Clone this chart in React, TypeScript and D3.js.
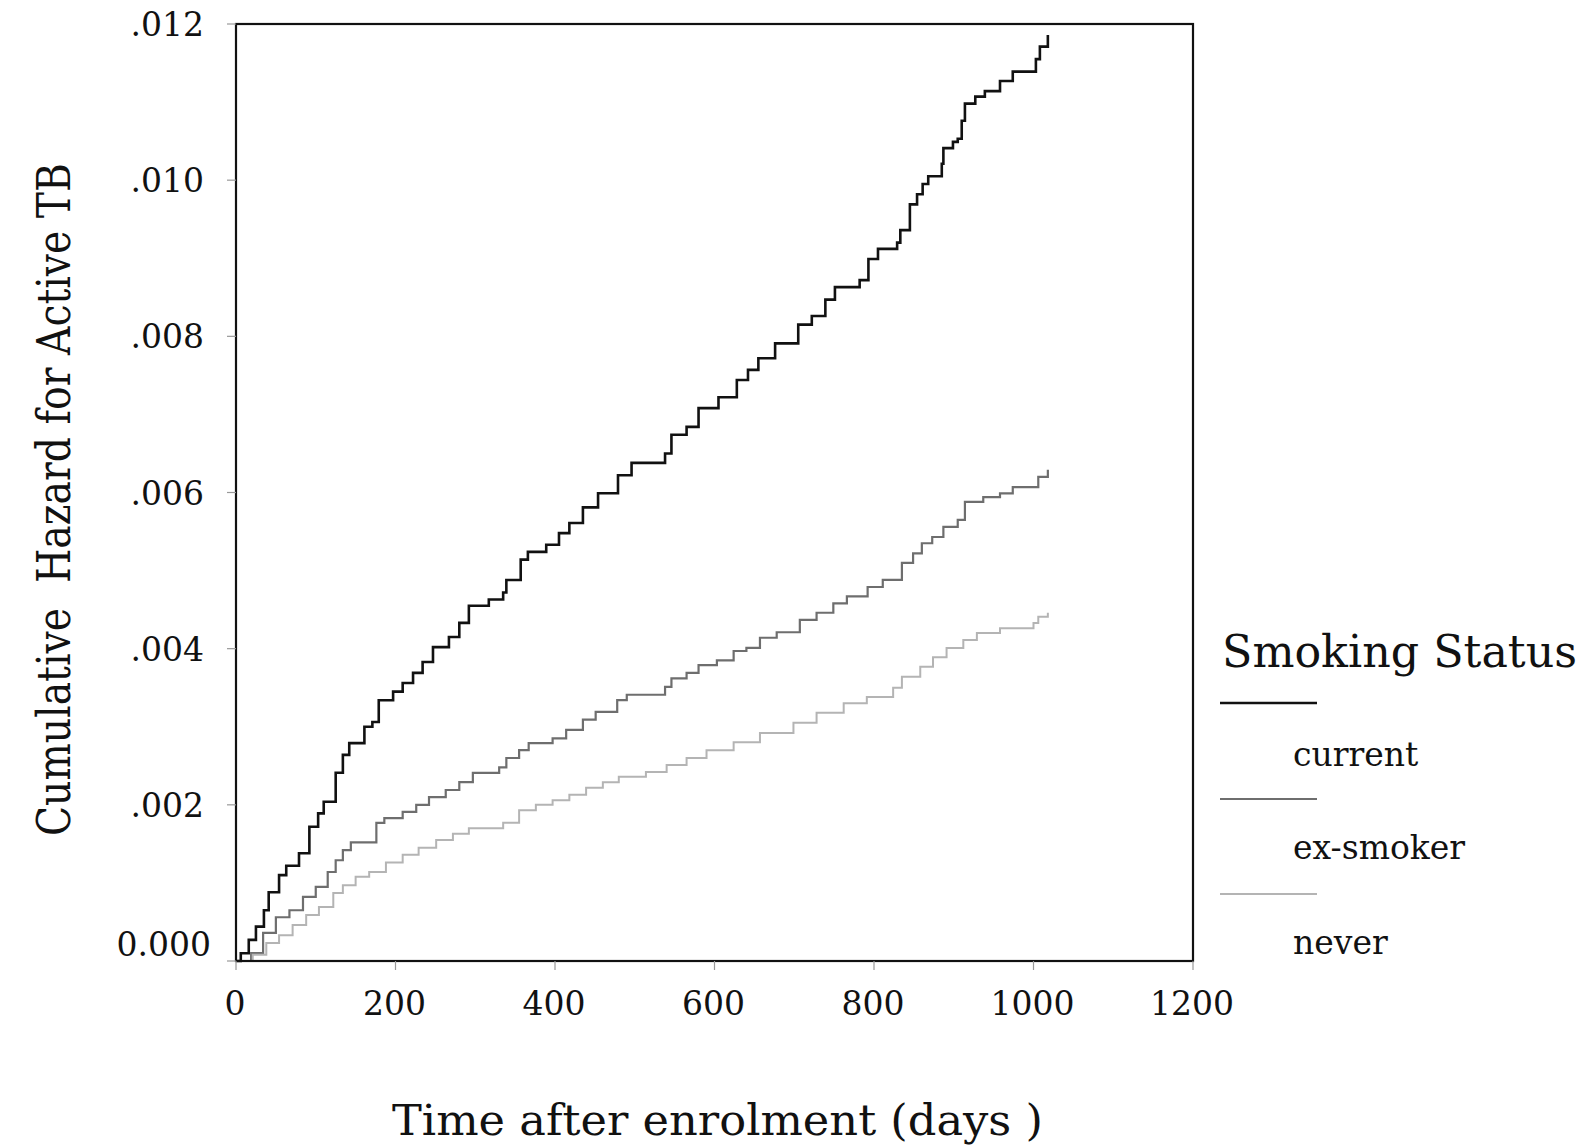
import React from "react";
import * as d3 from "d3";

const xTicks = [0, 200, 400, 600, 800, 1000, 1200];
const yTicks = [0, 0.002, 0.004, 0.006, 0.008, 0.01, 0.012];
const yTickLabels = ["0.000", ".002", ".004", ".006", ".008", ".010", ".012"];
const seriesNames = ["current", "ex-smoker", "never"];

const currentSteps: [number, number][] = [
  [0, 0], [6, 0.0001], [16, 0.00027], [25, 0.00044], [35, 0.00065], [41, 0.00088], [54, 0.0011],
  [63, 0.00122], [79, 0.00138], [92, 0.00172], [103, 0.00189], [110, 0.00204], [125, 0.00241],
  [134, 0.00264], [142, 0.00279], [161, 0.003], [171, 0.00306], [179, 0.00334], [197, 0.00345],
  [209, 0.00356], [222, 0.00369], [234, 0.00383], [247, 0.00402], [267, 0.00415], [280, 0.00433],
  [292, 0.00455], [317, 0.00463], [335, 0.00472], [339, 0.00488], [357, 0.00514], [366, 0.00524],
  [389, 0.00533], [405, 0.00548], [418, 0.00561], [435, 0.00581], [454, 0.00599], [479, 0.00622],
  [496, 0.00638], [538, 0.0065], [546, 0.00674], [565, 0.00684], [580, 0.00708], [605, 0.00722],
  [628, 0.00744], [642, 0.00757], [655, 0.00772], [676, 0.00791], [705, 0.00815], [722, 0.00826],
  [739, 0.00847], [751, 0.00863], [782, 0.00872], [793, 0.00899], [805, 0.00912], [829, 0.0092],
  [833, 0.00936], [845, 0.00969], [854, 0.00982], [861, 0.00995], [868, 0.01005], [885, 0.01021],
  [887, 0.01041], [899, 0.01049], [905, 0.01053], [910, 0.01076], [914, 0.01098], [927, 0.01107],
  [939, 0.01114], [958, 0.01127], [974, 0.01139], [1003, 0.01155], [1008, 0.01171], [1018, 0.01186],
];

const exSmokerSteps: [number, number][] = [
  [0, 0], [19, 0.0001], [34, 0.00036], [50, 0.00056], [67, 0.00065], [84, 0.00082], [100, 0.00095],
  [115, 0.00114], [125, 0.00129], [134, 0.00142], [144, 0.00152], [176, 0.00177], [186, 0.00183],
  [209, 0.00191], [226, 0.002], [242, 0.0021], [263, 0.00219], [280, 0.00229], [297, 0.00241],
  [330, 0.00248], [339, 0.0026], [355, 0.0027], [367, 0.00279], [397, 0.00285], [414, 0.00296],
  [435, 0.00309], [451, 0.00319], [478, 0.00334], [490, 0.00341], [538, 0.00351], [546, 0.00362],
  [565, 0.00369], [580, 0.00379], [603, 0.00385], [624, 0.00397], [640, 0.00401], [657, 0.00414],
  [678, 0.00421], [707, 0.00437], [728, 0.00446], [749, 0.00458], [766, 0.00467], [792, 0.00479],
  [811, 0.00488], [835, 0.0051], [849, 0.00522], [860, 0.00535], [873, 0.00543], [887, 0.00556],
  [905, 0.00565], [914, 0.00588], [937, 0.00594], [958, 0.00599], [974, 0.00607], [1006, 0.0062],
  [1018, 0.00629],
];

const neverSteps: [number, number][] = [
  [0, 0], [21, 0.00008], [38, 0.00023], [54, 0.00033], [71, 0.00046], [88, 0.00059], [104, 0.00069],
  [122, 0.00087], [134, 0.00097], [150, 0.00108], [167, 0.00114], [188, 0.00126], [209, 0.00136],
  [229, 0.00145], [251, 0.00155], [272, 0.00163], [292, 0.0017], [335, 0.00177], [355, 0.00193],
  [376, 0.002], [397, 0.00206], [418, 0.00213], [439, 0.00222], [460, 0.00229], [480, 0.00236],
  [514, 0.00242], [540, 0.00251], [565, 0.0026], [590, 0.0027], [624, 0.0028], [657, 0.00292],
  [699, 0.00305], [728, 0.00318], [762, 0.0033], [791, 0.00338], [824, 0.0035], [835, 0.00364],
  [858, 0.00377], [874, 0.00389], [891, 0.00401], [912, 0.00411], [929, 0.0042], [958, 0.00426],
  [1000, 0.00433], [1006, 0.00441], [1018, 0.00446],
];

const seriesData = [currentSteps, exSmokerSteps, neverSteps];
const seriesColors = ["#111111", "#6e6e6e", "#b4b4b4"];
const seriesWidths = [2.6, 2.2, 2.0];

const FONT = "'DejaVu Serif', 'Liberation Serif', serif";

export default function App() {
  const left = 236, right = 1193, top = 24, bottom = 961;
  const x = d3.scaleLinear().domain([0, 1200]).range([left, right]);
  const y = d3.scaleLinear().domain([0, 0.012]).range([bottom, top]);
  const line = d3
    .line<[number, number]>()
    .x((d) => x(d[0]))
    .y((d) => y(d[1]))
    .curve(d3.curveStepAfter);

  const legendY = [703, 799, 894];
  const legendLabelY = [766, 859, 954];

  return (
    <svg
      width={1595}
      height={1147}
      style={{ position: "absolute", left: 0, top: 0, background: "#fff" }}
      fontFamily={FONT}
    >
      <rect x={0} y={0} width={1595} height={1147} fill="#fff" />
      {seriesData.map((s, i) => (
        <path
          key={i}
          d={line(s) || ""}
          fill="none"
          stroke={seriesColors[i]}
          strokeWidth={seriesWidths[i]}
          strokeLinejoin="miter"
        />
      ))}
      <rect
        x={left}
        y={top}
        width={right - left}
        height={bottom - top}
        fill="none"
        stroke="#111"
        strokeWidth={2.2}
      />
      {yTicks.map((t, i) => (
        <g key={"y" + i}>
          <line x1={left - 9} x2={left} y1={y(t)} y2={y(t)} stroke="#999" strokeWidth={1.2} />
          <text
            x={i === 0 ? 211 : 204}
            y={i === 0 ? y(t) - 5 : y(t) + 12}
            textAnchor="end"
            fontSize={33}
            fill="#111"
          >
            {yTickLabels[i]}
          </text>
        </g>
      ))}
      {xTicks.map((t, i) => (
        <g key={"x" + i}>
          <line x1={x(t)} x2={x(t)} y1={bottom} y2={bottom + 9} stroke="#999" strokeWidth={1.2} />
          <text x={x(t) - 1} y={1015} textAnchor="middle" fontSize={33} fill="#111">
            {t}
          </text>
        </g>
      ))}
      <text
        x={392}
        y={1135}
        fontSize={42}
        fill="#111"
        textLength={651}
        lengthAdjust="spacingAndGlyphs"
      >
        Time after enrolment (days )
      </text>
      <text
        transform={`translate(70, ${836}) rotate(-90)`}
        x={0}
        y={0}
        fontSize={46}
        fill="#111"
        textLength={673}
        lengthAdjust="spacingAndGlyphs"
        style={{ whiteSpace: "pre" }}
      >
        {"Cumulative  Hazard for Active TB"}
      </text>
      <text
        x={1222}
        y={667}
        fontSize={44}
        fill="#111"
        textLength={355}
        lengthAdjust="spacingAndGlyphs"
      >
        Smoking Status
      </text>
      {seriesNames.map((n, i) => (
        <g key={n}>
          <line
            x1={1220}
            x2={1317}
            y1={legendY[i]}
            y2={legendY[i]}
            stroke={seriesColors[i]}
            strokeWidth={seriesWidths[i]}
          />
          <text x={1293} y={legendLabelY[i]} fontSize={33} fill="#111">
            {n}
          </text>
        </g>
      ))}
    </svg>
  );
}
